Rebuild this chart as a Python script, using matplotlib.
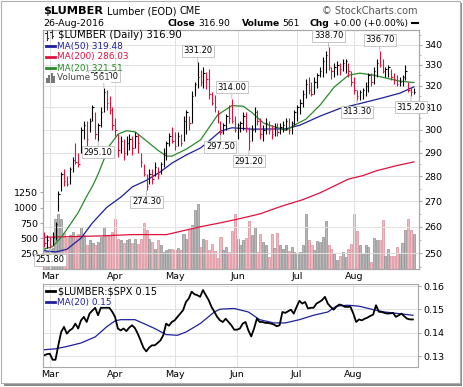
import matplotlib
matplotlib.use('Agg')
import matplotlib.pyplot as plt
from matplotlib.patches import Rectangle
from matplotlib.lines import Line2D
from matplotlib.ticker import FixedLocator, NullFormatter

W, H = 464, 387

# ---- data ----
months = ['Mar', 'Apr', 'May', 'Jun', 'Jul', 'Aug']
month_start = [2, 25, 46, 68, 89, 109]   # bar number of first day of month

prior_close = 256.0
high = [258, 257, 256, 258, 262, 274, 282, 283, 280, 284,
        288, 294, 290, 301, 304, 304, 305, 311, 308, 303,
        310, 319, 318, 315, 310, 305, 298, 297, 296, 297,
        298, 297, 299, 298, 290, 285, 281, 283, 283, 286,
        284, 286, 292, 295, 298.5, 301, 299, 299, 298, 306,
        309, 306, 317.5, 322, 331.2, 327.5, 329, 326.5, 327.8, 317,
        315.5, 309, 304, 303, 307, 311, 314, 306, 303, 304,
        308, 308, 301, 302, 310, 309, 305, 302, 305, 304,
        302, 303, 303, 303, 304, 305, 305, 304, 309, 311,
        314, 318, 323, 324, 322, 324, 326, 329, 334, 337,
        338.7, 329, 331, 332, 331, 333, 333, 331, 327, 324,
        318, 318, 319, 322, 326, 326, 329, 333, 336.7, 333,
        329, 330, 328, 326, 325, 324, 325, 330, 322, 319.5,
        319]
low = [252.5, 252, 251.8, 253, 255, 266, 274, 276, 276, 277,
       282, 285, 284, 290, 296, 293, 299, 304, 296, 295.1,
       301, 308, 309, 307, 300, 297, 288, 290, 287, 289,
       291, 289, 292, 290, 284, 280, 274.3, 277, 277, 280,
       279, 281, 284, 287, 293, 294, 291, 293, 293, 295,
       298, 300, 303, 315, 319, 320, 319, 318.7, 314, 311,
       308, 303, 297.5, 298, 300, 303, 303, 299, 296, 299,
       300, 299, 291.2, 295, 299, 302, 296, 295, 298, 298,
       296, 297, 297, 298, 299, 300, 298, 298, 302, 304,
       307, 310, 314.5, 316, 315, 316, 319, 324, 324, 326,
       327.5, 323, 324, 325, 325, 327, 326, 324, 320, 316,
       313.3, 313.5, 314, 315, 317, 320, 321, 324, 329, 326,
       324, 324, 322.5, 321, 320, 320, 320, 322.5, 317, 315.2,
       316]
close = [254, 255, 253, 256, 261, 273, 281, 278, 277, 283,
         287, 286, 285, 300, 302, 296, 304, 310, 298, 302,
         308, 317, 312, 309, 302, 300, 291, 295, 290, 294,
         296, 292, 297, 294, 286, 281, 276, 281, 279, 284,
         281, 285, 290, 294, 297, 295, 293, 297, 294, 304,
         308, 303, 315, 321, 324, 322, 326, 323, 316, 312,
         310, 307, 299, 302, 306, 305, 304, 300, 302, 303,
         306, 301, 295, 300, 308, 304, 298, 300, 303, 300,
         298, 301, 299, 301, 302, 304, 300, 303, 308, 310,
         312, 316, 321, 318, 316, 322, 325, 327, 332, 335,
         329, 327, 329, 330, 328, 331, 332, 327, 322, 318,
         315, 317, 318, 320, 325, 322, 327, 331, 330, 327,
         328, 329, 324, 323, 321, 322, 324, 327, 318, 316.9,
         316.9]
volume = [330, 300, 330, 350, 822, 903, 822, 580, 500, 549,
          603, 521, 577, 685, 560, 386, 467, 430, 386, 440,
          521, 685, 549, 549, 600, 822, 495, 467, 430, 467,
          495, 420, 495, 413, 495, 750, 630, 495, 440, 332,
          467, 386, 276, 304, 332, 332, 304, 340, 304, 577,
          495, 630, 720, 958, 1067, 359, 495, 467, 304, 400,
          300, 173, 521, 304, 359, 276, 620, 903, 495, 386,
          467, 500, 778, 549, 685, 276, 565, 440, 397, 195,
          577, 348, 588, 397, 332, 386, 300, 360, 280, 250,
          276, 386, 903, 467, 386, 304, 456, 440, 521, 778,
          386, 320, 250, 140, 206, 276, 195, 332, 413, 903,
          620, 390, 250, 390, 360, 110, 510, 470, 480, 800,
          210, 330, 220, 210, 360, 260, 420, 640, 820, 630,
          565]

ma20_day = [0, 3, 6, 8, 12, 15, 17, 19, 21, 23, 26, 29, 32, 35, 40, 43, 45, 50,
            55, 61, 66, 70, 73, 77, 79, 83, 85, 89, 92, 97, 102, 107, 111, 116,
            121, 125, 130]
ma20 = [251.6, 252.5, 256, 259, 265.5, 272, 276, 281, 287, 293, 298, 299.5,
        299, 296, 291, 288.5, 288.5, 291.5, 295.5, 306.5, 310.8, 310.5, 307.7,
        303, 302, 300.5, 299.6, 302.7, 304.6, 311, 319.4, 325, 326, 325,
        323.4, 322.2, 321.51]
ma50_day = [0, 4, 8, 13, 17, 22, 27, 31, 36, 41, 45, 50, 55, 58, 62, 66, 73,
            85, 90, 97, 104, 111, 118, 125, 130]
ma50 = [251, 250.5, 251.5, 255.7, 261.5, 267.5, 271.6, 275.7, 278.4, 282,
        285.6, 289, 292, 295, 299.3, 300.8, 300.2, 300.3, 302, 306, 309.5,
        311.7, 314, 316.5, 319.48]
ma200_day = [0, 20, 31, 43, 55, 62, 68, 76, 83, 91, 97, 107, 112, 117, 124, 130]
ma200 = [256, 256.5, 257, 257, 260, 261.5, 262.9, 265, 267.8, 270.6, 273.3,
         278.9, 280.3, 282.4, 284.5, 286.03]

high_label_day = [21, 54, 66, 100, 118]
low_label_day = [2, 19, 36, 62, 72, 110, 129]

ratio = [0.1303, 0.1308, 0.1310, 0.1284, 0.1284, 0.1346, 0.1403, 0.1425, 0.1396, 0.1410,
         0.1418, 0.1439, 0.1418, 0.1453, 0.1468, 0.1446, 0.1482, 0.1495, 0.1507, 0.1475,
         0.1507, 0.1507, 0.1507, 0.1507, 0.1490, 0.1468, 0.1418, 0.1410, 0.1418, 0.1407,
         0.1422, 0.1432, 0.1420, 0.1396, 0.1367, 0.1336, 0.1320, 0.1336, 0.1346, 0.1346,
         0.1356, 0.1367, 0.1389, 0.1439, 0.1430, 0.1446, 0.1453, 0.1468, 0.1482, 0.1497,
         0.1532, 0.1547, 0.1576, 0.1565, 0.1561, 0.1554, 0.1583, 0.1561, 0.1540, 0.1511,
         0.1490, 0.1468, 0.1453, 0.1446, 0.1460, 0.1446, 0.1432, 0.1413, 0.1413, 0.1418,
         0.1439, 0.1446, 0.1410, 0.1384, 0.1418, 0.1460, 0.1446, 0.1446, 0.1442, 0.1442,
         0.1439, 0.1435, 0.1428, 0.1432, 0.1489, 0.1485, 0.1492, 0.1499, 0.1482, 0.1511,
         0.1537, 0.1525, 0.1532, 0.1504, 0.1507, 0.1507, 0.1525, 0.1532, 0.1540, 0.1554,
         0.1525, 0.1511, 0.1499, 0.1511, 0.1521, 0.1518, 0.1511, 0.1511, 0.1511, 0.1482,
         0.1446, 0.1457, 0.1453, 0.1460, 0.1465, 0.1472, 0.1478, 0.1518, 0.1490, 0.1489,
         0.1485, 0.1482, 0.1483, 0.1485, 0.1468, 0.1475, 0.1482, 0.1470, 0.1460, 0.1457,
         0.1457]
ratio_ma_day = [0, 4, 8, 13, 18, 22, 25, 27, 32, 35, 39, 43, 47, 50, 55, 60, 62,
                67, 72, 76, 81, 85, 90, 95, 100, 103, 107, 111, 116, 120, 125, 130]
ratio_ma = [0.1327, 0.1331, 0.1341, 0.1356, 0.1382, 0.1425, 0.1451, 0.1456,
            0.1456, 0.1440, 0.1418, 0.1392, 0.1389, 0.1403, 0.1439, 0.1489,
            0.1501, 0.1504, 0.1489, 0.1456, 0.1442, 0.1442, 0.1456, 0.1475,
            0.1489, 0.1514, 0.1518, 0.1514, 0.1499, 0.1489, 0.1482, 0.1475]

# ---- colours ----
UP, DOWN = '#000000', '#e0103a'
VOL_UP, VOL_UP_E = '#b8b8b8', '#8c8c8c'
VOL_DN, VOL_DN_E = '#f3b9c1', '#d98c99'
C_MA50, C_MA200, C_MA20 = '#1f1f9e', '#e0103e', '#2a8a2a'
GRID, SPINE = '#e2e2e2', '#a8a8a8'


def fx(x):
    return x / W


def fy(y):
    return 1 - y / H


days = list(range(len(close)))
prev = [prior_close] + close[:-1]
is_up = [c >= p for c, p in zip(close, prev)]
bar_col = [UP if u else DOWN for u in is_up]

fig = plt.figure(figsize=(W / 100, H / 100), dpi=100)

# frame with drop shadow
fig.patches.append(Rectangle((fx(4), fy(386)), fx(458), 383 / H, transform=fig.transFigure,
                             fc='#8a8a8a', ec='none', zorder=-3))
fig.patches.append(Rectangle((fx(1), fy(383)), fx(459), 382 / H, transform=fig.transFigure,
                             fc='white', ec='#b0b0b0', lw=0.8, zorder=-2))

# ---- main panel: volume behind, price on top ----
axv = fig.add_axes([fx(43), fy(269), fx(376), 239 / H])
ax = axv.twinx()
ax.set_zorder(axv.get_zorder() + 1)
ax.patch.set_visible(False)

axv.bar(days, volume, width=0.72,
        color=[VOL_UP if u else VOL_DN for u in is_up],
        edgecolor=[VOL_UP_E if u else VOL_DN_E for u in is_up], linewidth=0.5)
axv.set_ylim(0, 3900)
axv.set_xlim(-0.4, 131.8)
axv.yaxis.set_major_locator(FixedLocator([250, 500, 750, 1000, 1250]))
axv.tick_params(axis='y', labelsize=6.8, length=2, color=SPINE, pad=1.5)
axv.set_xticks(month_start)
axv.set_xticklabels(months)
axv.tick_params(axis='x', labelsize=6.8, length=0, pad=2.5)

ax.set_yscale('log')
ax.set_ylim(244.3, 347.4)
ax.yaxis.set_major_locator(FixedLocator(list(range(250, 341, 10))))
ax.yaxis.set_major_formatter(plt.FuncFormatter(lambda v, p: '%d' % round(v)))
ax.yaxis.set_minor_locator(FixedLocator(list(range(245, 346, 10))))
ax.yaxis.set_minor_formatter(NullFormatter())
ax.tick_params(axis='y', which='major', labelsize=6.8, length=2.5, color=SPINE, pad=1.5)
ax.tick_params(axis='y', which='minor', length=1.5, color=SPINE)

for v in range(250, 341, 10):
    ax.axhline(v, color=GRID, lw=0.7, zorder=0)
for m in month_start:
    ax.axvline(m, color=GRID, lw=0.7, zorder=0)

ax.plot(ma200_day, ma200, color=C_MA200, lw=0.9, zorder=2)
ax.plot(ma50_day, ma50, color=C_MA50, lw=0.9, zorder=2)
ax.plot(ma20_day, ma20, color=C_MA20, lw=0.9, zorder=2)

ax.vlines(days, low, high, colors=bar_col, lw=0.8, zorder=3)
ax.hlines(close, days, [d + 0.5 for d in days], colors=bar_col, lw=0.8, zorder=3)

box = dict(boxstyle='square,pad=0.18', fc='white', ec='#bdbdbd', lw=0.6)
arrow = dict(arrowstyle='-', color='#b5b5b5', lw=0.6, shrinkA=0, shrinkB=0)
for d in high_label_day:
    ax.annotate('%.2f' % high[d], xy=(d, high[d]), xytext=(0, 5), textcoords='offset points',
                ha='center', va='bottom', fontsize=6, bbox=box, arrowprops=arrow, zorder=5)
for d in low_label_day:
    ax.annotate('%.2f' % low[d], xy=(d, low[d]), xytext=(0, -5), textcoords='offset points',
                ha='center', va='top', fontsize=6, bbox=box, arrowprops=arrow, zorder=5,
                annotation_clip=False)

for a in (ax, axv):
    for s in a.spines.values():
        s.set_color(SPINE)
        s.set_linewidth(0.8)

# ---- lower panel: ratio ----
ax2 = fig.add_axes([fx(43), fy(367), fx(375), 83 / H])
for m in month_start:
    ax2.axvline(m, color=GRID, lw=0.7, zorder=0)
for v in [0.13, 0.14, 0.15, 0.16]:
    ax2.axhline(v, color=GRID, lw=0.7, zorder=0)
ax2.plot(ratio_ma_day, ratio_ma, color=C_MA50, lw=0.9)
ax2.plot(days, ratio, color='black', lw=1.3)
ax2.set_xlim(-0.4, 131.8)
ax2.set_ylim(0.1253, 0.1609)
ax2.yaxis.tick_right()
ax2.set_yticks([0.13, 0.14, 0.15, 0.16])
ax2.set_yticklabels(['0.13', '0.14', '0.15', '0.16'])
ax2.tick_params(axis='y', labelsize=6.8, length=2.5, color=SPINE, pad=1.5)
ax2.set_xticks(month_start)
ax2.set_xticklabels(months)
ax2.tick_params(axis='x', labelsize=6.8, length=0, pad=2.5)
for s in ax2.spines.values():
    s.set_color(SPINE)
    s.set_linewidth(0.8)

# ---- header ----
fig.text(fx(43), fy(14), r'\$LUMBER', fontsize=8.2, fontweight='bold', va='baseline')
fig.text(fx(107), fy(14), 'Lumber (EOD)', fontsize=7, va='baseline')
fig.text(fx(180), fy(14), 'CME', fontsize=7, va='baseline')
fig.text(fx(418), fy(14), '© StockCharts.com', fontsize=7, color='#555555', va='baseline', ha='right')
fig.text(fx(43), fy(26), '26-Aug-2016', fontsize=6.8, va='baseline')
for x, s, bold in [(168, 'Close', True), (198, '316.90', False), (242, 'Volume', True),
                   (282, '561', False), (310, 'Chg', True), (333, '+0.00 (+0.00%)', False)]:
    fig.text(fx(x), fy(26), s, fontsize=6.6, va='baseline', fontweight='bold' if bold else 'normal')
fig.add_artist(Line2D([fx(412), fx(418)], [fy(23), fy(23)], color='black', lw=1.5))

# ---- legends ----
for x0, y0, y1 in [(47, 31, 40), (52, 30, 38)]:
    fig.add_artist(Line2D([fx(x0), fx(x0)], [fy(y0), fy(y1)], color='#333333', lw=0.8))
    fig.add_artist(Line2D([fx(x0 - 1.5), fx(x0)], [fy(y0 + 2), fy(y0 + 2)], color='#333333', lw=0.8))
    fig.add_artist(Line2D([fx(x0), fx(x0 + 1.5)], [fy(y1 - 2), fy(y1 - 2)], color='#333333', lw=0.8))
fig.text(fx(58), fy(35), r'\$LUMBER (Daily) 316.90', fontsize=7.3, va='center')

for y, label, col in [(46, 'MA(50) 319.48', C_MA50), (57, 'MA(200) 286.03', C_MA200),
                      (68, 'MA(20) 321.51', C_MA20)]:
    fig.add_artist(Line2D([fx(46), fx(55)], [fy(y), fy(y)], color=col, lw=2))
    fig.text(fx(57), fy(y), label, fontsize=6.4, color=col, va='center')

for x0, hgt in [(46, 5), (48.5, 8), (51, 10), (53.5, 7)]:
    fig.patches.append(Rectangle((fx(x0), fy(83)), fx(1.8), hgt / H, transform=fig.transFigure,
                                 fc='#777777', ec='none', zorder=4))
fig.text(fx(57), fy(78), 'Volume 561', fontsize=6.4, color='#444444', va='center', zorder=6,
         bbox=dict(boxstyle='square,pad=0.1', fc='white', ec='none'))

fig.add_artist(Line2D([fx(46), fx(55)], [fy(291), fy(291)], color='black', lw=2))
fig.text(fx(58), fy(291), r'\$LUMBER:\$SPX 0.15', fontsize=7, va='center')
fig.add_artist(Line2D([fx(46), fx(55)], [fy(302), fy(302)], color=C_MA50, lw=2))
fig.text(fx(57), fy(302), 'MA(20) 0.15', fontsize=6.4, color=C_MA50, va='center')

fig.savefig('out.png', dpi=100)
